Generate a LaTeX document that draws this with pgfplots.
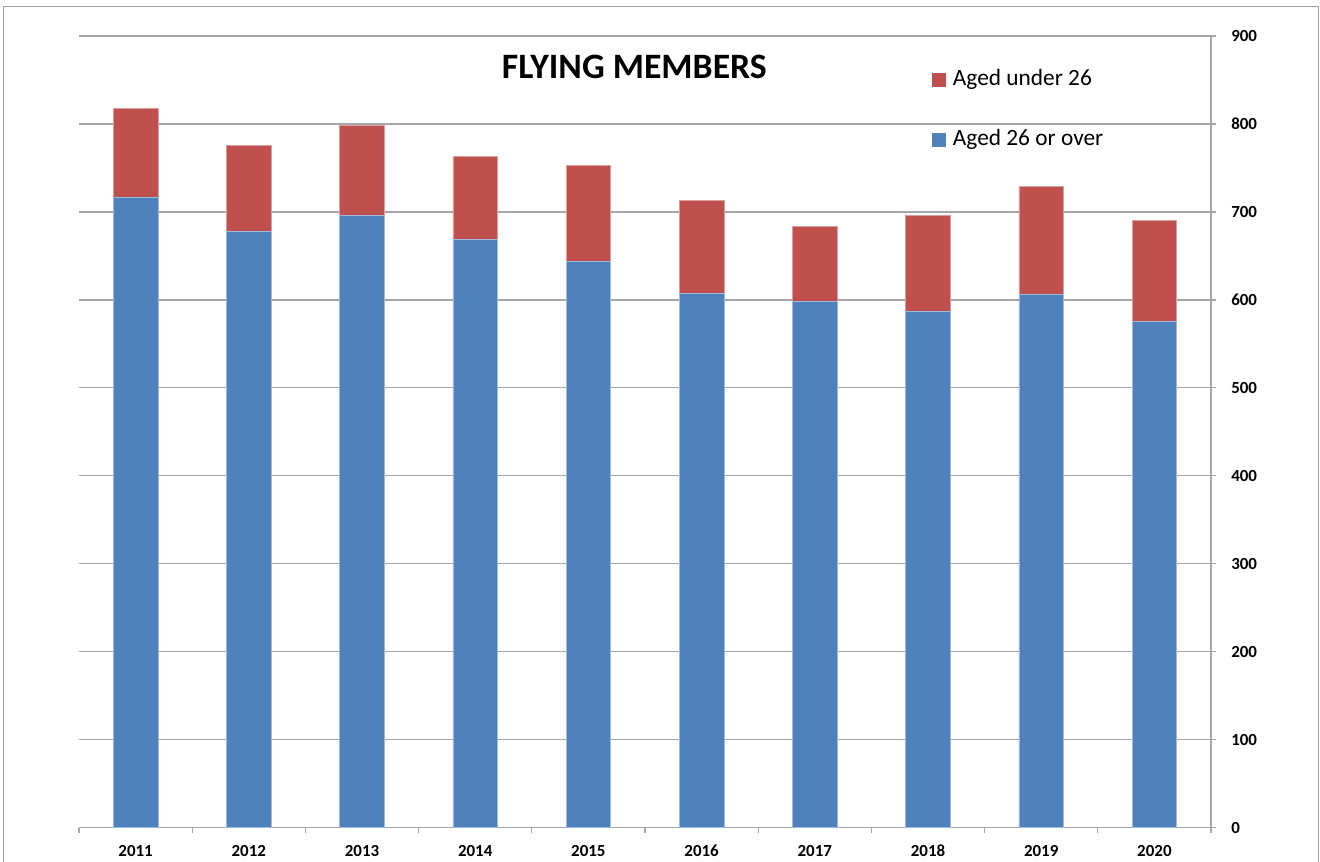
\documentclass[border=0pt]{standalone}
\usepackage{pgfplots}
\pgfplotsset{compat=1.18}
\usepackage{pgfplotstable}
\usepackage{fontspec}
\setmainfont{Carlito}
\definecolor{blueS}{HTML}{4F81BD}
\definecolor{redS}{HTML}{C0504D}
\definecolor{gridG}{HTML}{A6A6A6}
\definecolor{frameG}{HTML}{A0A0A0}

\pgfplotstableread{
x blue red
0 717 101
1 678 98
2 696 102
3 669 94
4 644 109
5 607 106
6 598 86
7 587 109
8 606 123
9 576 114
}\datatable

\begin{document}
\begin{tikzpicture}
\useasboundingbox (-59.25pt,-24.98pt) rectangle (930.75pt,620.8pt);
\draw[frameG, line width=1pt] (-56.6pt,-40pt) rectangle (929.6pt,615.9pt);
\begin{axis}[
  at={(0pt,0pt)}, anchor=south west,
  scale only axis, width=849pt, height=593.8pt,
  ybar stacked, bar width=33.45pt,
  xmin=-0.5, xmax=9.5, ymin=0, ymax=900,
  xtick={0,...,9},
  xticklabels={2011,2012,2013,2014,2015,2016,2017,2018,2019,2020},
  minor xtick={-0.5,0.5,...,9.5},
  ytick={0,100,...,900},
  axis x line*=bottom, axis y line*=right,
  axis line style={gridG, line width=0.9pt},
  ymajorgrids, major grid style={gridG, line width=0.9pt},
  tick align=outside,
  major tick length=3.75pt, minor tick length=4.3pt,
  tick style={gridG, line width=0.9pt},
  major x tick style={draw=none},
  /pgf/number format/assume math mode=true,
  ticklabel style={font=\bfseries\fontsize{12.7}{15}\selectfont},
  yticklabel style={anchor=west, inner sep=0pt, xshift=11.25pt},
  xticklabel style={anchor=base, inner sep=0pt, yshift=-18pt},
  title={FLYING MEMBERS},
  title style={at={(0.4906,0.9368)}, anchor=base, inner sep=0pt,
    font=\bfseries\fontsize{26.8}{30}\selectfont},
  legend cell align=left,
  legend style={at={(0.7535,0.9583)}, anchor=north west, draw=none, fill=none,
    inner sep=0pt, row sep=29pt, column sep=5.25pt,
    font=\fontsize{17.5}{20}\selectfont,
    nodes={inner sep=0pt, text height=12pt, text depth=4pt}},
  legend image code/.code={\path[#1, draw=none] (0pt,-5.15pt) rectangle (10.3pt,5.15pt);},
  reverse legend,
]
\addplot[fill=blueS, draw=blueS!55!white, line width=0.6pt] table[x=x, y=blue] \datatable;
\addlegendentry{Aged 26 or over}
\addplot[fill=redS, draw=redS!55!white, line width=0.6pt] table[x=x, y=red] \datatable;
\addlegendentry{Aged under 26}
\end{axis}
\end{tikzpicture}
\end{document}
